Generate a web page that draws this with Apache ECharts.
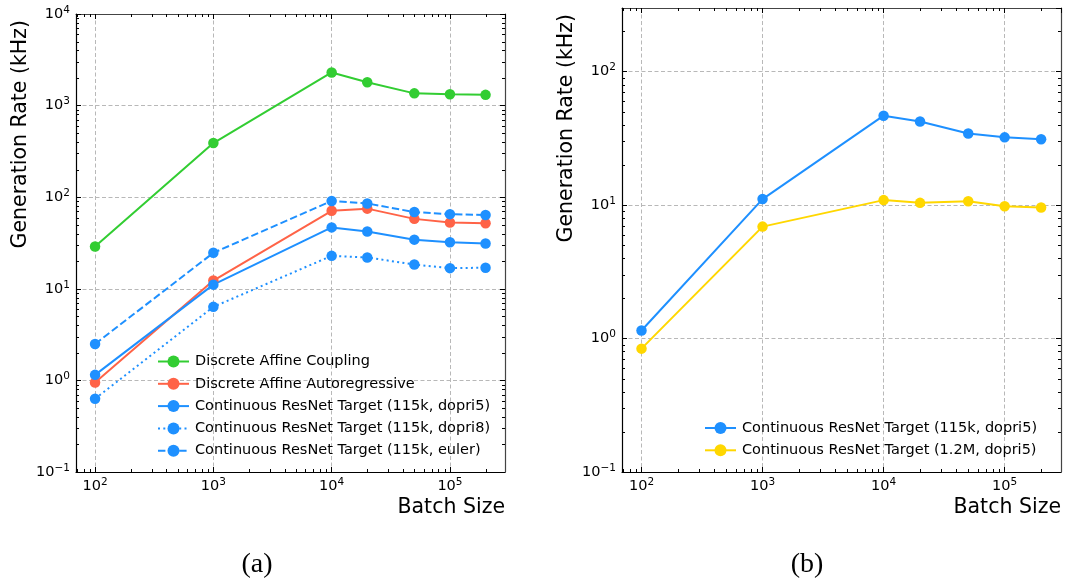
<!DOCTYPE html>
<html>
<head>
<meta charset="utf-8">
<script src="https://cdn.jsdelivr.net/npm/echarts@6/dist/echarts.min.js"></script>
<style>
html,body{margin:0;padding:0;background:#fff;}
#chart{width:1068px;height:584px;}
</style>
</head>
<body>
<div id="chart"></div>
<script>
// ---- data ----
const batchSizes = [100, 1000, 10000, 20000, 50000, 100000, 200000];
const discreteCoupling = [29, 390, 2300, 1800, 1360, 1330, 1310];
const discreteAutoreg = [0.95, 12.3, 71, 75, 58, 53, 52];
const resnet115kDopri5 = [1.15, 11.1, 46.8, 42.3, 34.4, 32.2, 31.2];
const resnet115kDopri8 = [0.63, 6.35, 22.9, 22, 18.4, 16.8, 17];
const resnet115kEuler = [2.5, 24.7, 91, 85.5, 68.8, 65.3, 63.8];
const resnet12MDopri5 = [0.84, 6.9, 10.9, 10.4, 10.7, 9.8, 9.6];
const legendA = ['Discrete Affine Coupling', 'Discrete Affine Autoregressive',
  'Continuous ResNet Target (115k, dopri5)', 'Continuous ResNet Target (115k, dopri8)',
  'Continuous ResNet Target (115k, euler)'];
const legendB = ['Continuous ResNet Target (115k, dopri5)', 'Continuous ResNet Target (1.2M, dopri5)'];
const panelLabels = ['(a)', '(b)'];
const xTitle = 'Batch Size';
const yTitle = 'Generation Rate (kHz)';

const FONT = 'DejaVu Sans';
const C = {green: '#32CD32', red: '#FF6347', blue: '#1E90FF', gold: '#FFD700'};
const X_MIN = 69, X_MAX = 292000, Y_MIN = 0.1;

function pairs(ys) { return batchSizes.map((x, i) => [x, ys[i]]); }
function expFmt(v) {
  const e = Math.round(Math.log10(v));
  return '10{s|' + (e < 0 ? '\u2212' + (-e) : e) + '}';
}
const rich = {s: {fontSize: 10.5, fontFamily: FONT, color: '#000', padding: [0, 0, 8, 0]}};

// minor tick values (2..9 x 10^k) inside an extent
function minorValues(lo, hi) {
  const out = [];
  for (let k = Math.floor(Math.log10(lo)); k <= Math.ceil(Math.log10(hi)); k++) {
    for (let m = 2; m <= 9; m++) {
      const v = m * Math.pow(10, k);
      if (v > lo * 1.001 && v < hi * 0.999) out.push(v);
    }
  }
  return out;
}

function xAxes(gi) {
  return [{
    type: 'log', logBase: 10, gridIndex: gi, min: X_MIN, max: X_MAX,
    axisLine: {show: true, lineStyle: {color: '#000', width: 1.2}},
    axisTick: {show: true, inside: true, length: 5, lineStyle: {color: '#000'}},
    axisLabel: {show: true, formatter: expFmt, rich: rich, fontSize: 14.5, fontFamily: FONT, color: '#000',
      margin: 5, showMinLabel: false, showMaxLabel: false},
    splitLine: {show: true, lineStyle: {color: '#b8b8b8', type: [4, 2.5], width: 1}},
    name: xTitle, nameLocation: 'end', nameGap: 0,
    nameTextStyle: {fontSize: 20.5, fontFamily: FONT, color: '#000', align: 'right', verticalAlign: 'top', padding: [25, 0, 0, 0]}
  }, {
    type: 'log', logBase: 10, gridIndex: gi, min: X_MIN, max: X_MAX, position: 'top',
    axisLine: {show: true, lineStyle: {color: '#444', width: 1.2}},
    axisTick: {show: true, inside: true, length: 5, lineStyle: {color: '#000'}},
    axisLabel: {show: false}, splitLine: {show: false}
  }];
}
function yAxes(gi, max) {
  return [{
    type: 'log', logBase: 10, gridIndex: gi, min: Y_MIN, max: max,
    axisLine: {show: true, lineStyle: {color: '#000', width: 1.2}},
    axisTick: {show: true, inside: true, length: 5, lineStyle: {color: '#000'}},
    axisLabel: {show: true, formatter: expFmt, rich: rich, fontSize: 14.5, fontFamily: FONT, color: '#000',
      margin: 6, showMaxLabel: max >= 10000},
    splitLine: {show: true, lineStyle: {color: '#b8b8b8', type: [4, 2.5], width: 1}},
    name: yTitle, nameLocation: 'end', nameGap: -6, nameRotate: 90,
    nameTextStyle: {fontSize: 20.5, fontFamily: FONT, color: '#000', align: 'right', verticalAlign: 'bottom', padding: [0, 0, 45, 0]}
  }, {
    type: 'log', logBase: 10, gridIndex: gi, min: Y_MIN, max: max, position: 'right',
    axisLine: {show: true, lineStyle: {color: '#444', width: 1.2}},
    axisTick: {show: true, inside: true, length: 5, lineStyle: {color: '#000'}},
    axisLabel: {show: false}, splitLine: {show: false}
  }];
}
function line(name, data, color, type, xi, yi) {
  return {
    type: 'line', name: name, data: pairs(data), xAxisIndex: xi, yAxisIndex: yi,
    symbol: 'circle', symbolSize: 10.5, showSymbol: true,
    itemStyle: {color: color},
    lineStyle: {color: color, width: 2, type: type},
    emphasis: {disabled: true}, animation: false, z: 3
  };
}
// minor ticks drawn through the axes' own scales
function minorTickSeries(xi, yi, yMax) {
  const data = [];
  minorValues(X_MIN, X_MAX).forEach(v => data.push([v, 1, 0]));
  minorValues(Y_MIN, yMax).forEach(v => data.push([1000, v, 1]));
  return {
    type: 'custom', xAxisIndex: xi, yAxisIndex: yi, data: data, silent: true, z: 4,
    clip: false, animation: false,
    renderItem: function (params, api) {
      const cs = params.coordSys;
      const p = api.coord([api.value(0), api.value(1)]);
      const st = {stroke: '#000', lineWidth: 1};
      const L = 3;
      if (api.value(2) === 0) {
        const x = Math.round(p[0]) + 0.5;
        return {type: 'group', children: [
          {type: 'line', shape: {x1: x, y1: cs.y + cs.height, x2: x, y2: cs.y + cs.height - L}, style: st},
          {type: 'line', shape: {x1: x, y1: cs.y, x2: x, y2: cs.y + L}, style: st}
        ]};
      }
      const y = Math.round(p[1]) + 0.5;
      return {type: 'group', children: [
        {type: 'line', shape: {x1: cs.x, y1: y, x2: cs.x + L, y2: y}, style: st},
        {type: 'line', shape: {x1: cs.x + cs.width, y1: y, x2: cs.x + cs.width - L, y2: y}, style: st}
      ]};
    }
  };
}

const chart = echarts.init(document.getElementById('chart'), null, {renderer: 'canvas'});
const legendText = {fontSize: 14.5, fontFamily: FONT, color: '#000', lineHeight: 16, padding: [0, 0, 0, 1]};
chart.setOption({
  backgroundColor: '#fff',
  animation: false,
  grid: [
    {left: 76, right: 563, top: 14, bottom: 112},
    {left: 622, right: 7, top: 8, bottom: 112}
  ],
  xAxis: [...xAxes(0), ...xAxes(1)],
  yAxis: [...yAxes(0, 10000), ...yAxes(1, 300)],
  legend: [
    {data: legendA, left: 152, top: 348.5, orient: 'vertical', itemWidth: 31, itemHeight: 15, itemGap: 6.3,
      textStyle: legendText, selectedMode: false},
    {data: legendB, left: 699, top: 415, orient: 'vertical', itemWidth: 31, itemHeight: 15, itemGap: 6.3,
      textStyle: legendText, selectedMode: false}
  ],
  series: [
    line(legendA[0], discreteCoupling, C.green, 'solid', 0, 0),
    line(legendA[1], discreteAutoreg, C.red, 'solid', 0, 0),
    line(legendA[2], resnet115kDopri5, C.blue, 'solid', 0, 0),
    line(legendA[3], resnet115kDopri8, C.blue, [2, 3.3], 0, 0),
    line(legendA[4], resnet115kEuler, C.blue, [7.4, 3.2], 0, 0),
    line(legendB[0], resnet115kDopri5, C.blue, 'solid', 2, 2),
    line(legendB[1], resnet12MDopri5, C.gold, 'solid', 2, 2),
    minorTickSeries(0, 0, 10000),
    minorTickSeries(2, 2, 300)
  ],
  graphic: [
    {type: 'text', x: 257, y: 565, style: {text: panelLabels[0], font: '28px "Liberation Serif"', fill: '#000', textAlign: 'center', textVerticalAlign: 'middle'}},
    {type: 'text', x: 807, y: 565, style: {text: panelLabels[1], font: '28px "Liberation Serif"', fill: '#000', textAlign: 'center', textVerticalAlign: 'middle'}}
  ]
});
</script>
</body>
</html>
